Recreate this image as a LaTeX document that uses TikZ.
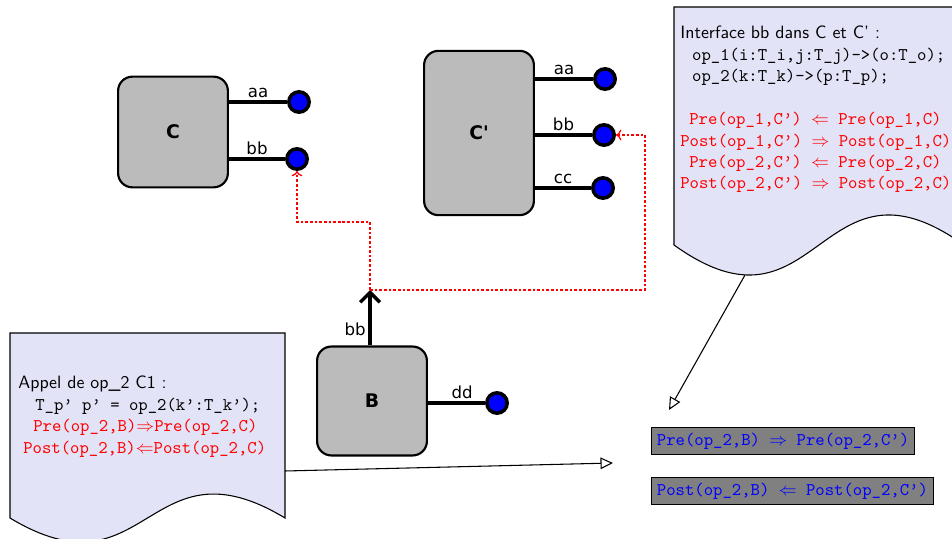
\documentclass[tikz,border=0pt]{standalone}
\usepackage{amsmath}
\usepackage{fontspec}
\usepackage{tikz}
\usetikzlibrary{arrows.meta}
\usetikzlibrary{positioning}
\newfontfamily\portfont{DejaVu Sans}
\newcommand{\q}{\textquoteright}
\definecolor{docfill}{RGB}{227,227,247}
\definecolor{compfill}{RGB}{187,187,187}
\tikzset{
  comp/.style = {draw, line width=1.2pt, fill=compfill, rounded corners=8pt,
    minimum width=61.5pt, font=\portfont\bfseries\fontsize{10.5}{12}\selectfont},
  port/.style = {circle, draw, line width=2pt, fill=blue, minimum size=11.4pt, inner sep=0pt},
  portline/.style = {line width=1.9pt},
  plabel/.style = {above, inner sep=1.5pt, font=\portfont\fontsize{9.3}{11}\selectfont},
  link/.style = {red, -{To[length=3pt, width=6pt]}, dash pattern=on 1.5pt off 1.1pt, line width=0.7pt},
  doc/.style = {draw, fill=docfill, line width=0.6pt},
  doctext/.style = {anchor=north west, align=left, inner sep=0pt, font=\sffamily},
  rulebox/.style = {draw, fill=gray, text=blue, font=\ttfamily, line width=0.6pt,
    inner sep=3pt, anchor=west},
  note/.style = {-{Triangle[open, length=7pt, width=6.5pt]}, line width=0.6pt},
}

\begin{document}
\begin{tikzpicture}[x=0.56pt, y=-0.56pt]
  \useasboundingbox (0,0) rectangle (952,539);

  \draw[doc] (674,7) -- (964,7) -- (964,245) .. controls (819,141) and (819,349) .. (674,245) -- cycle;
  \draw[doc] (10,333) -- (285,333) -- (285,518) .. controls (147.5,435) and (147.5,601) .. (10,518) -- cycle;

  \node[doctext] (iface) at (680,26) {Interface bb dans C et C' :\\
    \hspace{6.6pt}\texttt{op\_1(i:T\_i,j:T\_j)->(o:T\_o);}\\
    \hspace{6.6pt}\texttt{op\_2(k:T\_k)->(p:T\_p);}\\[\baselineskip]
    \color{red}\hspace{5pt}\texttt{Pre(op\_1,C\q)\ $\Leftarrow$\ Pre(op\_1,C)}\\
    \color{red}\texttt{Post(op\_1,C\q)\ $\Rightarrow$\ Post(op\_1,C)}\\
    \color{red}\hspace{5pt}\texttt{Pre(op\_2,C\q)\ $\Leftarrow$\ Pre(op\_2,C)}\\
    \color{red}\texttt{Post(op\_2,C\q)\ $\Rightarrow$\ Post(op\_2,C)}};

  \node[doctext] (appel) at (18,376) {Appel de op\_2 C1 :\\
    \hspace{9.5pt}\texttt{T\_p\q{} p\q{} = op\_2(k\q:T\_k\q);}\\
    \color{red}\hspace{8.4pt}\texttt{Pre(op\_2,B)$\Rightarrow$Pre(op\_2,C)}\\
    \color{red}\hspace{2.8pt}\texttt{Post(op\_2,B)$\Leftarrow$Post(op\_2,C)}};

  \node[comp, minimum height=62pt] (C) at (173,132) {C};
  \node[comp, minimum height=92pt] (Cp) at (479,133) {C'};
  \node[comp, minimum height=61pt] (B) at (372,401) {B};

  \node[port] (Caa) at (299,102) {};
  \node[port] (Cbb) at (297,159) {};
  \node[port] (Cpaa) at (605,79) {};
  \node[port] (Cpbb) at (604,135) {};
  \node[port] (Cpcc) at (603,188) {};
  \node[port] (Bdd) at (497,403) {};
  \coordinate (Bbb) at (370,290);

  \draw[portline] (C.east |- Caa) -- node[plabel] {aa} (Caa);
  \draw[portline] (C.east |- Cbb) -- node[plabel] {bb} (Cbb);
  \draw[portline] (Cp.east |- Cpaa) -- node[plabel] {aa} (Cpaa);
  \draw[portline] (Cp.east |- Cpbb) -- node[plabel] {bb} (Cpbb);
  \draw[portline] (Cp.east |- Cpcc) -- node[plabel] {cc} (Cpcc);
  \draw[portline] (B.east |- Bdd) -- node[plabel, pos=0.6] {dd} (Bdd);
  \draw[portline, -{Straight Barb[length=5.5pt, width=11pt]}] (B.north -| Bbb) -- node[plabel, left, pos=0.3] {bb} (Bbb);

  \draw[link] (Bbb) -- ++(0,-68) -| (Cbb);
  \draw[link] (Bbb) -- ++(275,0) |- (Cpbb);

  \node[rulebox] (pre) at (651,441) {Pre(op\_2,B)\ $\Rightarrow$\ Pre(op\_2,C\q)};
  \node[rulebox] (post) at (651,491) {Post(op\_2,B)\ $\Leftarrow$\ Post(op\_2,C\q)};

  \coordinate (ifaceout) at (745,275);
  \coordinate (ifacein) at (669,410);
  \coordinate (appelout) at (285,471);
  \coordinate (appelin) at (613,463);
  \draw[note] (ifaceout) -- (ifacein);
  \draw[note] (appelout) -- (appelin);
\end{tikzpicture}
\end{document}
